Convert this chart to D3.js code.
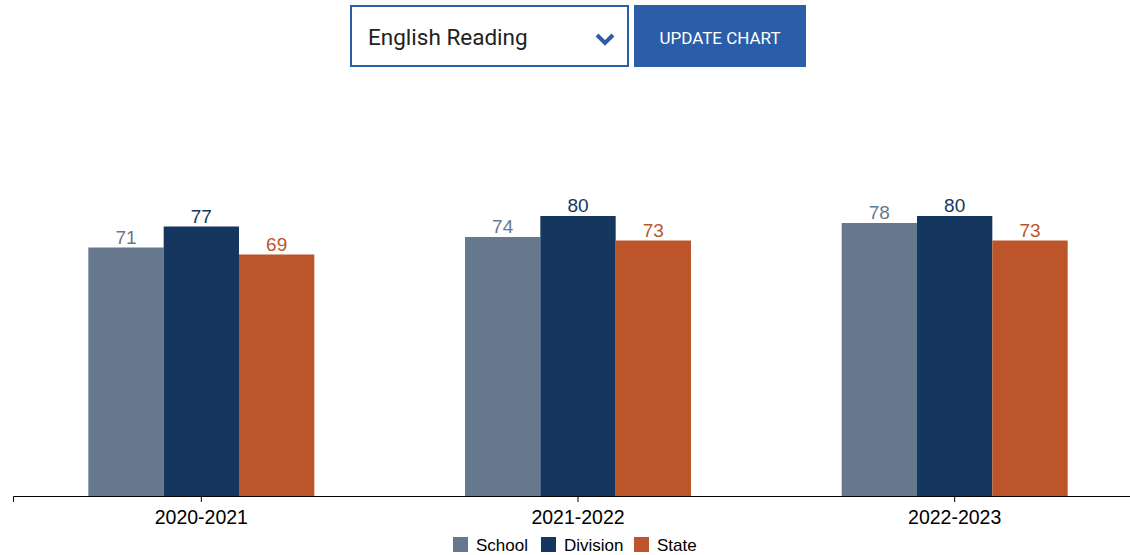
<!DOCTYPE html>
<html>
<head>
<meta charset="utf-8">
<script src="https://cdn.jsdelivr.net/npm/d3@7"></script>
<style>
	body { margin: 0; background: #fff; font-family: Roboto, sans-serif; }
	.controls { position: absolute; left: 350px; top: 5px; }
	.select {
		position: absolute; left: 0; top: 0; width: 259px; height: 58px;
		border: 2px solid #2a5ea8; background: #fff;
		font-size: 22.5px; color: #222; line-height: 60px; padding-left: 16px; box-sizing: content-box;
	}
	.select svg { position: absolute; left: 242px; top: 25px; }
	.button {
		position: absolute; left: 284px; top: 0; width: 172px; height: 62px;
		background: #2b5ea8; color: #fff; font-size: 17px; line-height: 66px; text-align: center;
	}
	.chart { position: absolute; left: 0; top: 0; }
</style>
</head>
<body>
<svg class="chart"></svg>
<div class="controls">
	<div class="select">English Reading
		<svg width="24" height="16"><polyline points="3,3 11,11 19,3" fill="none" stroke="#2a5ea8" stroke-width="4"/></svg>
	</div>
	<div class="button">UPDATE CHART</div>
</div>
<script>
var years = ["2020-2021", "2021-2022", "2022-2023"];
var seriesNames = ["School", "Division", "State"];
var school = [71, 74, 78];
var division = [77, 80, 80];
var state = [69, 73, 73];
var colors = ["#66788e", "#14365f", "#bc552a"];

var width = 1130;
var height = 555;

var svg = d3.select(".chart")
	.attr("width", width)
	.attr("height", height);

var x0 = d3.scaleBand()
	.domain(years)
	.range([13, 1143])
	.paddingInner(0.4)
	.paddingOuter(0.2);

var x1 = d3.scaleBand()
	.domain(seriesNames)
	.range([0, x0.bandwidth()]);

var y = d3.scaleLinear()
	.domain([0, 100])
	.range([496, 146]);

var rows = years.map(function(yr, i) {
	return { year: yr, values: [school[i], division[i], state[i]] };
});

var group = svg.append("g")
	.selectAll("g")
	.data(rows)
	.enter()
	.append("g")
		.attr("transform", function(d) { return "translate(" + x0(d.year) + ",0)"; });

var cell = group.selectAll("g")
	.data(function(d) { return d.values.map(function(v, j) { return { name: seriesNames[j], value: v, color: colors[j] }; }); })
	.enter()
	.append("g");

cell.append("rect")
	.attr("x", function(d) { return x1(d.name); })
	.attr("y", function(d) { return y(d.value); })
	.attr("width", x1.bandwidth())
	.attr("height", function(d) { return y(0) - y(d.value); })
	.attr("fill", function(d) { return d.color; });

cell.append("text")
	.attr("x", function(d) { return x1(d.name) + x1.bandwidth() / 2; })
	.attr("y", function(d) { return y(d.value) - 4; })
	.attr("text-anchor", "middle")
	.attr("font-family", "Liberation Sans, Arial, sans-serif")
	.attr("font-size", 19)
	.attr("fill", function(d) { return d.color; })
	.text(function(d) { return d.value; });

// x axis
var axis = svg.append("g")
	.attr("transform", "translate(0,496)")
	.call(d3.axisBottom(x0).tickSizeOuter(6).tickSize(6).tickPadding(8));
axis.select(".domain").attr("stroke", "#000");
axis.selectAll("text")
	.attr("font-family", "Liberation Sans, Arial, sans-serif")
	.attr("font-size", 19.5)
	.attr("fill", "#000");

// legend
var legendX = [453, 541, 634];
var legend = svg.append("g")
	.selectAll("g")
	.data(seriesNames)
	.enter()
	.append("g")
		.attr("transform", function(d, i) { return "translate(" + legendX[i] + ",537)"; });

legend.append("rect")
	.attr("width", 15)
	.attr("height", 15)
	.attr("fill", function(d, i) { return colors[i]; });

legend.append("text")
	.attr("x", 23)
	.attr("y", 14)
	.attr("font-family", "Liberation Sans, Arial, sans-serif")
	.attr("font-size", 17)
	.attr("fill", "#000")
	.text(function(d) { return d; });
</script>
</body>
</html>
